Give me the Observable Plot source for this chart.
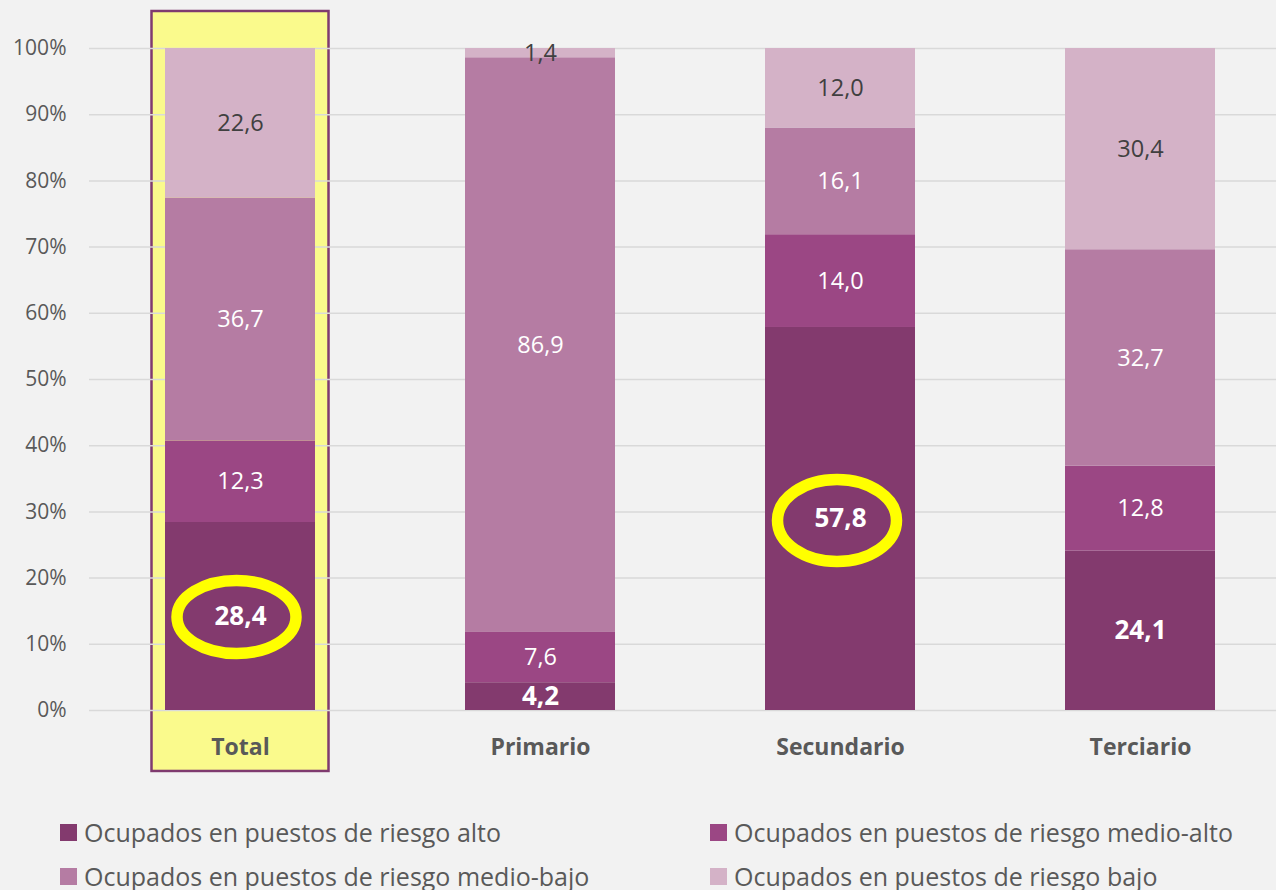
<!DOCTYPE html>
<html>
<head>
<meta charset="utf-8">
<script src="https://cdn.jsdelivr.net/npm/d3@7"></script>
<script src="https://cdn.jsdelivr.net/npm/@observablehq/plot@0.6"></script>
<style>
  html, body { margin: 0; padding: 0; background: #f2f2f2; }
  #wrap { position: relative; width: 1276px; height: 890px; overflow: hidden; font-family: "Open Sans", sans-serif; }
  #legend { position: absolute; left: 0; top: 800px; width: 1276px; height: 90px; }
  .item { position: absolute; display: flex; align-items: center; font-size: 25px; color: #595959; white-space: nowrap; }
  .sw { width: 17px; height: 17px; margin-right: 7px; }
</style>
</head>
<body>
<div id="wrap"><div id="chart"></div><div id="legend"></div></div>
<script>
const categories = ["Total", "Primario", "Secundario", "Terciario"];
const seriesNames = [
  "Ocupados en puestos de riesgo alto",
  "Ocupados en puestos de riesgo medio-alto",
  "Ocupados en puestos de riesgo medio-bajo",
  "Ocupados en puestos de riesgo bajo"
];
const alto      = [28.4, 4.2, 57.8, 24.1];
const medioAlto = [12.3, 7.6, 14.0, 12.8];
const medioBajo = [36.7, 86.9, 16.1, 32.7];
const bajo      = [22.6, 1.4, 12.0, 30.4];
const seriesColors = ["#833a6e", "#9b4784", "#b57ca3", "#d4b2c7"];
const yTicks = [0, 0.1, 0.2, 0.3, 0.4, 0.5, 0.6, 0.7, 0.8, 0.9, 1];
const highlightedCategory = "Total";
const circledCategories = ["Total", "Secundario"];

const seriesValues = [alto, medioAlto, medioBajo, bajo];
const data = [];
categories.forEach((c, i) => {
  seriesNames.forEach((s, j) => data.push({cat: c, series: s, sIdx: j, value: seriesValues[j][i]}));
});
const fmt = v => v.toFixed(1).replace(".", ",");
const totals = categories.map((c, i) => seriesValues.reduce((a, s) => a + s[i], 0));

function ellipseSymbol(rx, ry) {
  return {
    draw(ctx) {
      const kx = rx * 0.5523, ky = ry * 0.5523;
      ctx.moveTo(rx, 0);
      ctx.bezierCurveTo(rx, ky, kx, ry, 0, ry);
      ctx.bezierCurveTo(-kx, ry, -rx, ky, -rx, 0);
      ctx.bezierCurveTo(-rx, -ky, -kx, -ry, 0, -ry);
      ctx.bezierCurveTo(kx, -ry, rx, -ky, rx, 0);
      ctx.closePath();
    }
  };
}
const circleY = c => { const i = categories.indexOf(c); return alto[i] / totals[i] / 2; };
const stackOpts = (extra) => Plot.stackY({x: "cat", y: "value", offset: "normalize", ...extra});

const plot = Plot.plot({
  width: 1276,
  height: 800,
  marginLeft: 89,
  marginRight: 0,
  marginTop: 48,
  marginBottom: 90,
  style: {background: "#f2f2f2", color: "#595959", fontFamily: "Open Sans, sans-serif", overflow: "visible"},
  x: {domain: categories, range: [89.5, 1289.5], paddingInner: 0.5, paddingOuter: 0.25, label: null},
  y: {domain: [0, 1], label: null},
  color: {domain: seriesNames, range: seriesColors},
  marks: [
    Plot.barY([highlightedCategory], {x: d => d, y1: -0.0921, y2: 1.0559, fill: "#fafa8c", stroke: "#7f3b6f", strokeWidth: 2.5, insetLeft: -13.5, insetRight: -13.5}),
    Plot.ruleY(yTicks, {stroke: "#d9d9d9", strokeWidth: 1.5}),
    Plot.barY(data, stackOpts({fill: "series"})),
    Plot.axisY(yTicks, {tickSize: 0, tickPadding: 23, tickFormat: d3.format(".0%"), fontSize: 21, label: null}),
    Plot.axisX({tickSize: 0, tickPadding: 28, fontSize: 23, fontWeight: "bold", label: null}),
    Plot.text(data, stackOpts({text: d => d.sIdx === 3 ? fmt(d.value) : "", fill: "#404040", fontSize: 23.5})),
    Plot.text(data, stackOpts({text: d => (d.sIdx === 1 || d.sIdx === 2) ? fmt(d.value) : "", fill: "white", fontSize: 23.5})),
    Plot.text(data, stackOpts({text: d => d.sIdx === 0 ? fmt(d.value) : "", fill: "white", fontSize: 26, fontWeight: "bold"})),
    Plot.dot([circledCategories[0]], {x: d => d, y: circleY, dx: -4, dy: 0.5, symbol: ellipseSymbol(59.5, 36.5), r: 10, fill: "none", stroke: "#ffff00", strokeWidth: 11.5}),
    Plot.dot([circledCategories[1]], {x: d => d, y: circleY, dx: -3.5, dy: 1.5, symbol: ellipseSymbol(59.5, 41), r: 10, fill: "none", stroke: "#ffff00", strokeWidth: 11.5})
  ]
});
document.getElementById("chart").appendChild(plot);

const legend = document.getElementById("legend");
const legendPos = [[60, 32], [710, 32], [60, 76], [710, 76]];
seriesNames.forEach((s, j) => {
  const it = document.createElement("div");
  it.className = "item";
  it.style.left = legendPos[j][0] + "px";
  it.style.top = (legendPos[j][1] - 17) + "px";
  it.style.height = "34px";
  it.innerHTML = `<span class="sw" style="background:${seriesColors[j]}"></span><span>${s}</span>`;
  legend.appendChild(it);
});
</script>
</body>
</html>
